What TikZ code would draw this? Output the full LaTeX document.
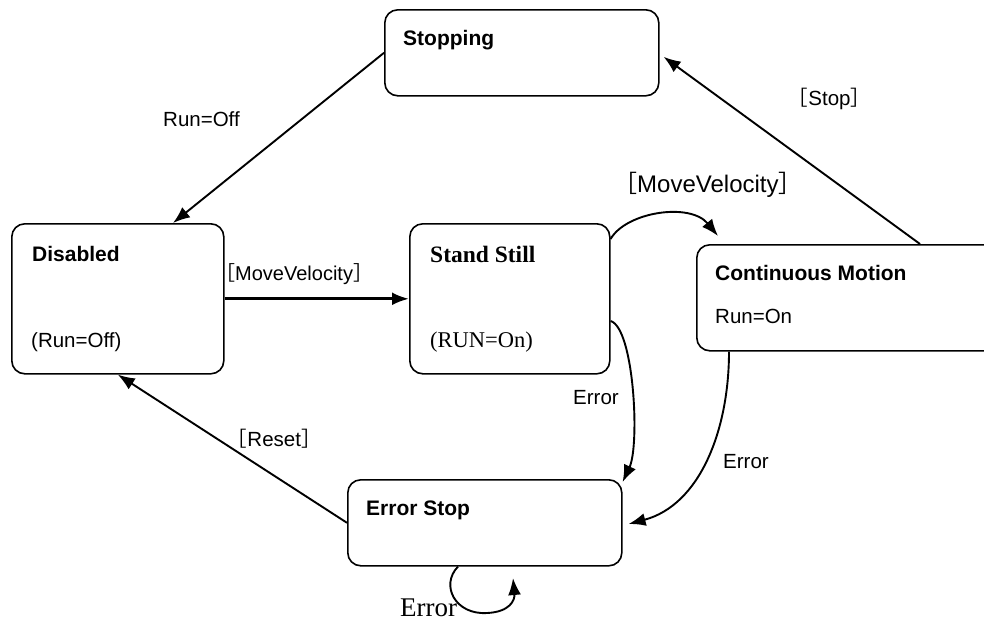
\documentclass[tikz,border=0pt]{standalone}
\usepackage{fontspec}
\setmainfont{Liberation Sans}
\newfontfamily\serifface{Liberation Serif}
\newfontfamily\cjk{Noto Sans CJK JP}
\usetikzlibrary{arrows.meta,calc}
\newcommand\lbr{{\cjk\kern-0.5em ［}}
\newcommand\rbr{{\cjk ］}}
\tikzset{
  state/.style={draw, line width=1.6pt, rounded corners=13pt, inner sep=0pt, anchor=north west},
  txt/.style={anchor=base west, inner sep=0pt, font=\fontsize{20.5}{24}\selectfont},
  btxt/.style={anchor=base west, inner sep=0pt, font=\bfseries\fontsize{21}{25}\selectfont},
  conn/.style={line width=1.9pt, -{Latex[length=17pt,width=13pt]}},
}
\begin{document}
\begin{tikzpicture}[x=1pt,y=-1pt]
\useasboundingbox (0,0) rectangle (984,622);
\clip (0,0) rectangle (984,622);
% states
\node[state, minimum width=274pt, minimum height=86pt] (stopping) at (384,9) {};
\node[state, minimum width=212pt, minimum height=150pt] (disabled) at (11,223) {};
\node[state, minimum width=200pt, minimum height=150pt] (standstill) at (409,223) {};
\node[state, minimum width=330pt, minimum height=106pt] (cm) at (696,244) {};
\node[state, minimum width=274pt, minimum height=86pt] (errorstop) at (347,479) {};
% state texts
\node[btxt] (tstop) at (403,45) {Stopping};
\node[btxt] (tdis) at (32,261) {Disabled};
\node[txt] (tdis2) at (31,347) {(Run=Off)};
\node[anchor=base west, inner sep=0pt, font=\serifface\bfseries\fontsize{23.5}{27}\selectfont] (tss) at (430,262) {Stand Still};
\node[anchor=base west, inner sep=0pt, font=\serifface\fontsize{22.5}{26}\selectfont] (tss2) at (430,347) {(RUN=On)};
\node[btxt] (tcm) at (715,280) {Continuous Motion};
\node[txt] (tcm2) at (715,323) {Run=On};
\node[btxt] (tes) at (366,515) {Error Stop};
% connectors
\draw[conn] (stopping.west) -- ($(disabled.north west)+(162,0)$) coordinate (d1);
\draw[conn] ($(cm.north west)+(224,0)$) -- ($(stopping.east)+(4,4)$);
\draw[conn, line width=2.8pt] (disabled.east) -- (standstill.west);
\draw[conn] ($(standstill.north east)+(0,16)$) .. controls (626,212) and (690,202) .. ($(cm.north west)+(22,-8)$);
\draw[conn] ($(standstill.north east)+(0,98)$) .. controls (634,328) and (640,445) .. ($(errorstop.north east)+(0,3)$);
\draw[conn] ($(cm.south west)+(33,0)$) .. controls (729,430) and (700,505) .. ($(errorstop.north east)+(6,45)$);
\draw[conn] (errorstop.west) -- (disabled.south);
\draw[conn] ($(errorstop.south west)+(111,0)$) .. controls (440,585) and (455,615) .. (487,613) .. controls (510,612) and (515,600) .. (513,578);
% labels
\node[txt] (lrunoff) at (163,126) {Run=Off};
\node[txt] (lstop) at (798,105) {\lbr Stop\rbr};
\node[anchor=base west, inner sep=0pt, font=\fontsize{24}{28}\selectfont] (lmv1) at (625,192) {\lbr MoveVelocity\rbr};
\node[txt, font=\fontsize{20}{24}\selectfont] (lmv2) at (225,280) {\lbr MoveVelocity\rbr};
\node[txt] (lerr1) at (573,404) {Error};
\node[txt] (lerr2) at (723,468) {Error};
\node[txt] (lreset) at (237,446) {\lbr Reset\rbr};
\node[anchor=base west, inner sep=0pt, font=\serifface\fontsize{27}{30}\selectfont] (lerr3) at (400,616) {Error};
\end{tikzpicture}
\end{document}
